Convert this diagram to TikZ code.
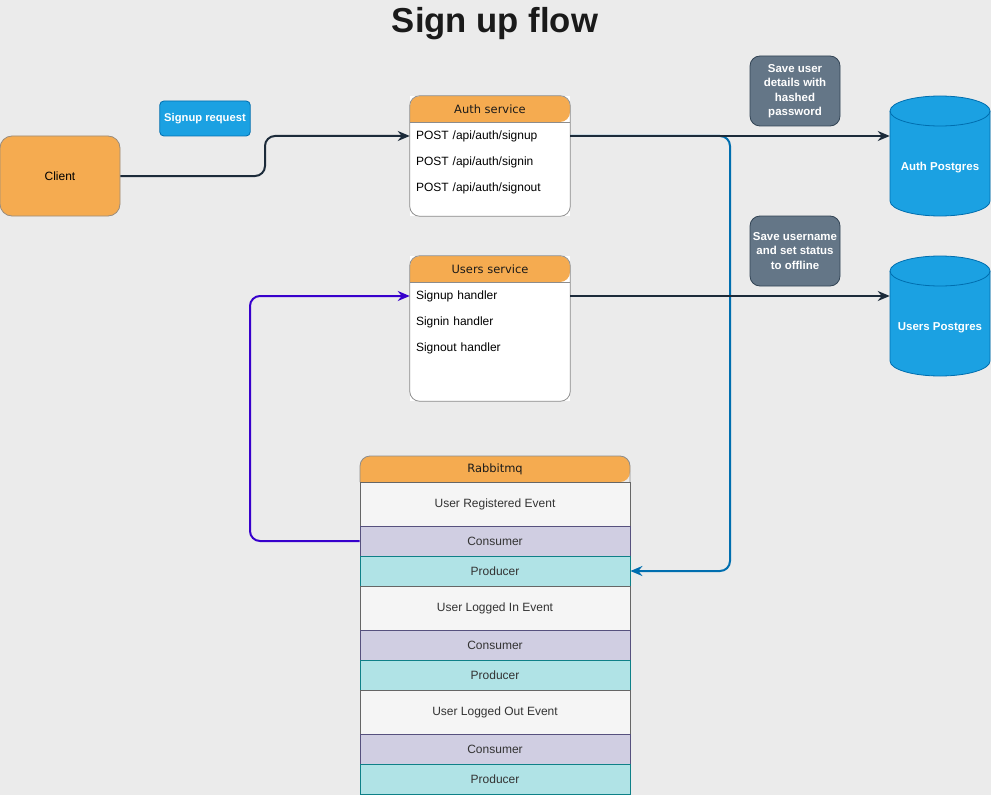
\documentclass[tikz,border=0pt]{standalone}
\usepackage{fontspec}
\setmainfont{Liberation Sans}
\newfontfamily\hdrfont{DejaVu Sans}
\usetikzlibrary{arrows.meta}
\definecolor{bgc}{HTML}{EBEBEB}
\definecolor{orangefill}{HTML}{F5AB50}
\definecolor{clientstroke}{HTML}{9A8C7C}
\definecolor{svcstroke}{HTML}{8C8C8C}
\definecolor{bluefill}{HTML}{1BA1E2}
\definecolor{bluestroke}{HTML}{006EAF}
\definecolor{slatefill}{HTML}{647687}
\definecolor{slatestroke}{HTML}{314354}
\definecolor{darkline}{HTML}{1C2B3A}
\definecolor{purpleline}{HTML}{3700CC}
\definecolor{evfill}{HTML}{F5F5F5}
\definecolor{evstroke}{HTML}{666666}
\definecolor{confill}{HTML}{D0CEE2}
\definecolor{constroke}{HTML}{56517E}
\definecolor{profill}{HTML}{B0E3E6}
\definecolor{prostroke}{HTML}{0E8088}
\definecolor{txtgray}{HTML}{333333}
\definecolor{titlec}{HTML}{1A1A1A}
\begin{document}
\begin{tikzpicture}[x=0.75pt,y=-0.75pt,
  txt/.style={font=\fontsize{9}{10.8}\selectfont},
  hdr/.style={font=\hdrfont\fontsize{8.6}{10}\selectfont, text=titlec},
  clientbox/.style={draw=clientstroke, fill=orangefill, rounded corners=9pt, minimum width=90pt, minimum height=60pt, txt, line width=0.6pt},
  reqbox/.style={draw=bluestroke, fill=bluefill, rounded corners=3pt, minimum width=67.5pt, minimum height=26.25pt, text=white, font=\bfseries\fontsize{8.4}{10}\selectfont, line width=0.6pt},
  slatebox/.style={draw=slatestroke, fill=slatefill, rounded corners=7.5pt, minimum width=67.5pt, minimum height=52.5pt, text=white, align=center, font=\bfseries\fontsize{8.6}{10.9}\selectfont, inner sep=1pt, line width=0.6pt},
  svcbox/.style={fill=white, minimum width=120pt, inner sep=0pt},
  svcrow/.style={txt, text width=111pt, inner xsep=4.5pt, inner ysep=0pt, minimum height=19.5pt, align=left},
  evrow/.style={draw=evstroke, fill=evfill, minimum width=202.5pt, minimum height=33pt, txt, text=txtgray, line width=0.6pt},
  conrow/.style={draw=constroke, fill=confill, minimum width=202.5pt, minimum height=22.5pt, txt, text=txtgray, line width=0.6pt},
  prorow/.style={draw=prostroke, fill=profill, minimum width=202.5pt, minimum height=22.5pt, txt, text=txtgray, line width=0.6pt},
  dbshape/.style={draw=bluestroke, fill=bluefill, line width=0.6pt},
  dblabel/.style={text=white, font=\bfseries\fontsize{8.6}{10}\selectfont},
  conn/.style={line width=1.5pt, rounded corners=7.5pt, -{Stealth[length=9pt, width=7.5pt, inset=3pt]}},
  darkconn/.style={conn, draw=darkline},
  blueconn/.style={conn, draw=bluestroke},
  purpconn/.style={conn, draw=purpleline}
]
\fill[bgc] (0,0) rectangle (991,795);
\useasboundingbox (0,0) rectangle (991,795);

% title
\node[font=\bfseries\fontsize{26}{30}\selectfont, text=titlec] (title) at (495,24) {Sign up flow};

% client and request label
\node[clientbox] (client) at (60,176) {Client};
\node[reqbox] (req) at (205,118.5) {Signup request};

% Auth service
\node[svcbox, minimum height=90pt] (auth) at (490,156) {};
\fill[orangefill] (410,122) [rounded corners=7.5pt] |- (490,96) -| (570,122) [sharp corners] -- cycle;
\draw[svcstroke, line width=0.6pt] (410,122) -- (570,122);
\draw[svcstroke, line width=0.6pt, rounded corners=7.5pt] (auth.south west) rectangle (auth.north east);
\node[hdr] (authh) at (490,109) {Auth service};
\node[svcrow] (a1) at (490,136) {POST /api/auth/signup};
\node[svcrow] (a2) at (490,162) {POST /api/auth/signin};
\node[svcrow] (a3) at (490,188) {POST /api/auth/signout};

% Users service
\node[svcbox, minimum height=108.75pt] (users) at (490,328.5) {};
\fill[orangefill] (410,282) [rounded corners=7.5pt] |- (490,256) -| (570,282) [sharp corners] -- cycle;
\draw[svcstroke, line width=0.6pt] (410,282) -- (570,282);
\draw[svcstroke, line width=0.6pt, rounded corners=7.5pt] (users.south west) rectangle (users.north east);
\node[hdr] (usersh) at (490,269) {Users service};
\node[svcrow] (u1) at (490,296) {Signup handler};
\node[svcrow] (u2) at (490,322) {Signin handler};
\node[svcrow] (u3) at (490,348) {Signout handler};

% notes
\node[slatebox] (note1) at (795,91) {Save user\\details with\\hashed\\password};
\node[slatebox] (note2) at (795,251) {Save username\\and set status\\to offline};

% databases
\draw[dbshape] (890,111) -- (890,201) arc[start angle=180, end angle=360, x radius=37.5pt, y radius=11.25pt] -- (990,111) arc[start angle=0, end angle=180, x radius=37.5pt, y radius=11.25pt] -- cycle;
\draw[bluestroke, line width=0.6pt] (890,111) arc[start angle=180, end angle=360, x radius=37.5pt, y radius=11.25pt];
\node[minimum width=75pt, minimum height=90pt, inner sep=0pt] (adb) at (940,156) {};
\node[dblabel] (adbl) at (940,168) {Auth Postgres};

\draw[dbshape] (890,271) -- (890,361) arc[start angle=180, end angle=360, x radius=37.5pt, y radius=11.25pt] -- (990,271) arc[start angle=0, end angle=180, x radius=37.5pt, y radius=11.25pt] -- cycle;
\draw[bluestroke, line width=0.6pt] (890,271) arc[start angle=180, end angle=360, x radius=37.5pt, y radius=11.25pt];
\node[minimum width=75pt, minimum height=90pt, inner sep=0pt] (udb) at (940,316) {};
\node[dblabel] (udbl) at (940,328) {Users Postgres};

% Rabbitmq
\fill[orangefill] (360,482) [rounded corners=7.5pt] |- (495,456) -| (630,482) [sharp corners] -- cycle;
\draw[svcstroke, line width=0.6pt] (360,482) [rounded corners=7.5pt] |- (495,456) -| (630,482);
\node[hdr] (rq) at (495,469) {Rabbitmq};
\node[evrow] (ev1) at (495,504) {User Registered Event};
\node[conrow] (c1) at (495,541) {Consumer};
\node[prorow] (p1) at (495,571) {Producer};
\node[evrow] (ev2) at (495,608) {User Logged In Event};
\node[conrow] (c2) at (495,645) {Consumer};
\node[prorow] (p2) at (495,675) {Producer};
\node[evrow] (ev3) at (495,712) {User Logged Out Event};
\node[conrow] (c3) at (495,749) {Consumer};
\node[prorow] (p3) at (495,779) {Producer};

% connectors
\coordinate (bbend) at (730,571);
\coordinate (cbend) at (265,176);
\coordinate (pbend) at (250,541);
\draw[blueconn] (a1.east) -| (bbend) -- (p1.east);
\draw[darkconn] (client.east) -- (cbend) |- (a1.west);
\draw[darkconn] (a1.east) -- (a1.east -| adb.west);
\draw[darkconn] (u1.east) -- (u1.east -| udb.west);
\draw[purpconn] (c1.west) -- (pbend) |- (u1.west);
\end{tikzpicture}
\end{document}
